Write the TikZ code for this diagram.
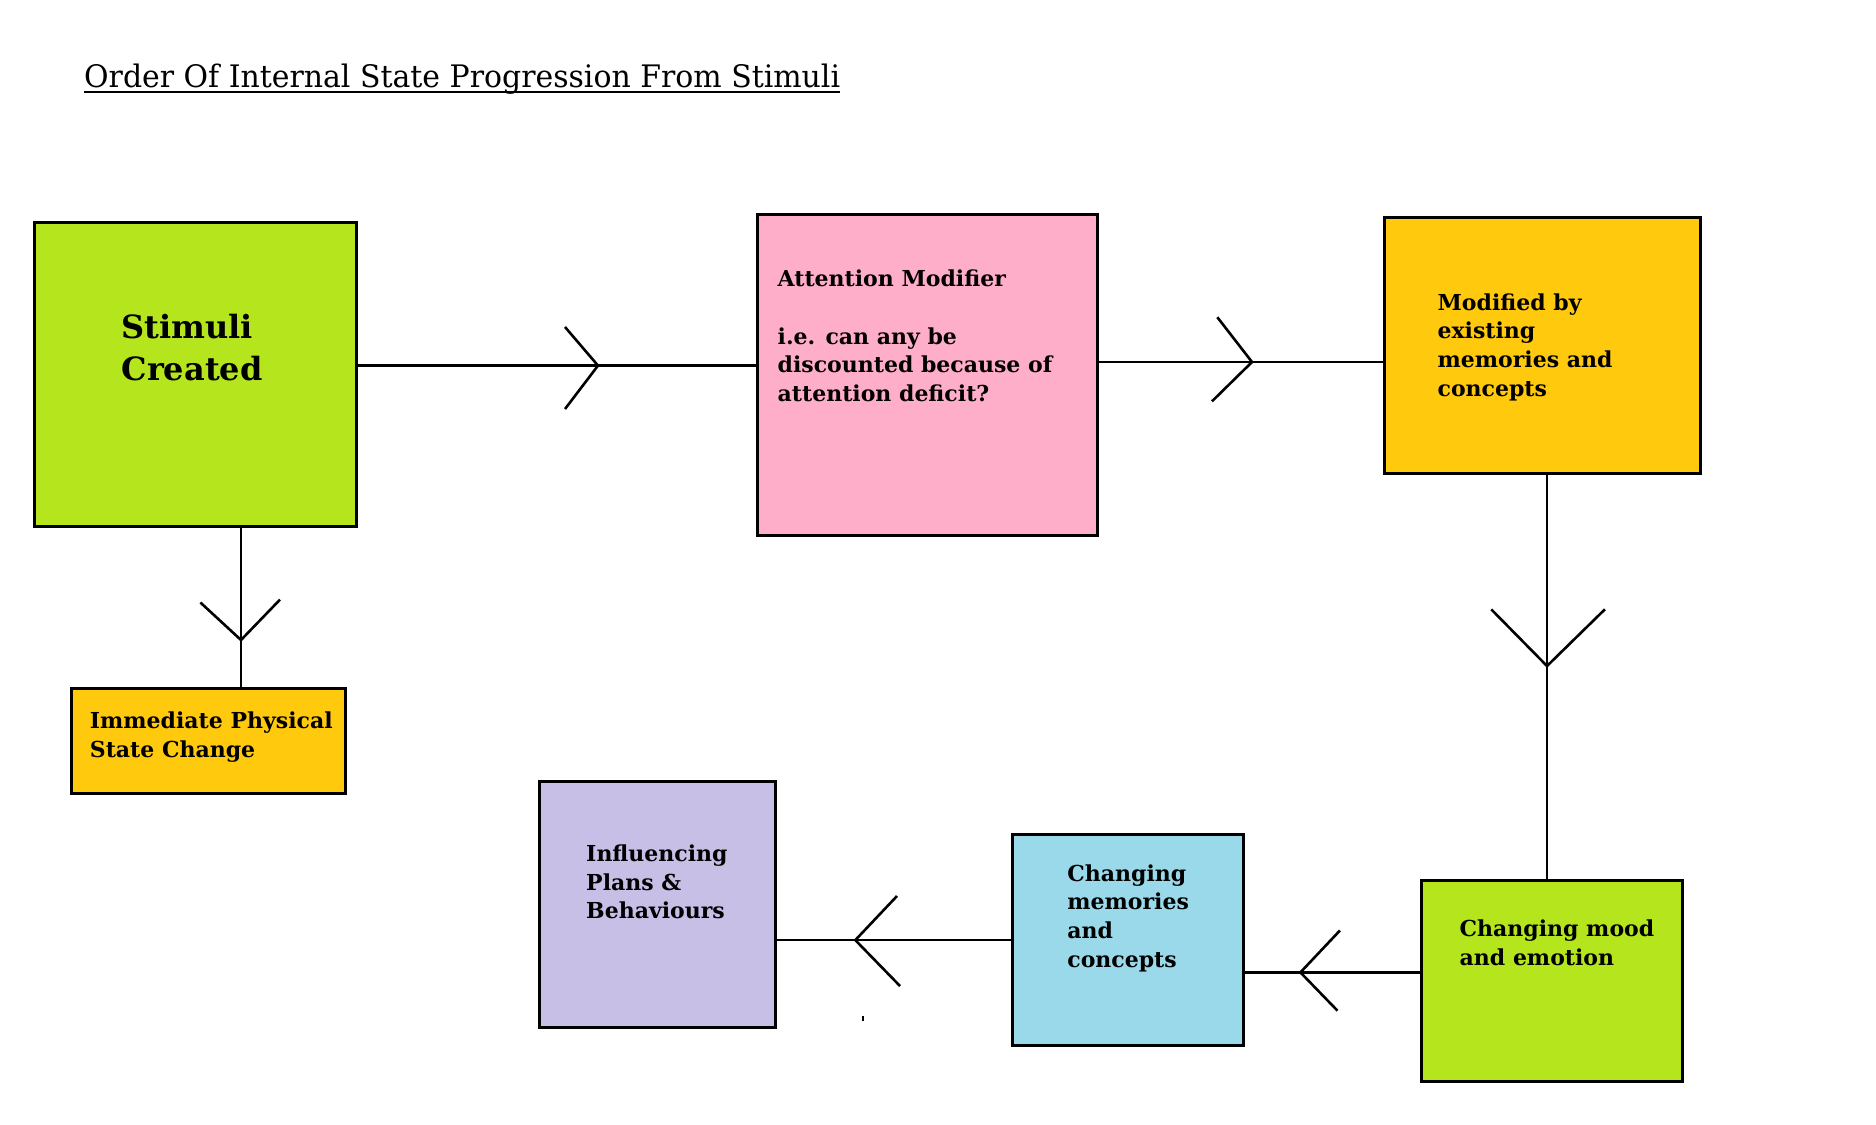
\documentclass[tikz,border=0pt]{standalone}
\usepackage{fontspec}
\setmainfont{DejaVu Serif}
\newfontfamily\titlefont{DejaVu Serif}[FakeStretch=0.965]
\definecolor{pgreen}{HTML}{B5E61D}
\definecolor{pyellow}{HTML}{FFC90E}
\definecolor{ppink}{HTML}{FFAEC9}
\definecolor{pblue}{HTML}{99D9EA}
\definecolor{plav}{HTML}{C8BFE7}
\newcommand\boxlines[1]{\begin{tabular}[t]{@{}l@{}}#1\end{tabular}}
\tikzset{
  box/.style={draw=black, line width=3pt, inner sep=0pt, rectangle},
  conn/.style={draw=black, line width=2.6pt},
  btext/.style={inner sep=0pt, anchor=base west, font=\bfseries\fontsize{22}{28.7}\selectfont},
}
\begin{document}
\begin{tikzpicture}[x=1pt,y=-1pt]
\fill[white] (0,0) rectangle (1876,1124);
\useasboundingbox (0,0) rectangle (1876,1124);

% title
\node[inner sep=0pt, anchor=base west, font=\titlefont\fontsize{31}{36}\selectfont] (title) at (84,87.8) {Order Of Internal State Progression From Stimuli};
\draw[line width=2pt] ([yshift=-4pt]title.base west) -- ([yshift=-4pt]title.base east);

% boxes
\node[box, fill=pgreen, minimum width=322pt, minimum height=304pt] (stim) at (195,374) {};
\node[box, fill=ppink, minimum width=340.5pt, minimum height=320.2pt] (att) at (927.25,374.9) {};
\node[box, fill=pyellow, minimum width=316pt, minimum height=256pt] (mod) at (1542,345.5) {};
\node[box, fill=pyellow, minimum width=274pt, minimum height=104.5pt] (imm) at (208.5,740.75) {};
\node[box, fill=plav, minimum width=236pt, minimum height=246pt] (infl) at (657,904.5) {};
\node[box, fill=pblue, minimum width=231pt, minimum height=211pt] (mem) at (1127.5,939.5) {};
\node[box, fill=pgreen, minimum width=260.5pt, minimum height=200.5pt] (mood) at (1551.75,980.75) {};

% texts
\node[btext, font=\bfseries\fontsize{32}{41.3}\selectfont] (stimT) at (121.4,338.7) {\boxlines{Stimuli\\Created}};
\node[btext] (attT) at (777.5,286.7) {\boxlines{Attention Modifier\\ \\i.e. can any be\\discounted because of\\attention deficit?}};
\node[btext] (modT) at (1437.4,310) {\boxlines{Modified by\\existing\\memories and\\concepts}};
\node[btext] (immT) at (89.7,728.7) {\boxlines{Immediate Physical\\State Change}};
\node[btext] (inflT) at (586,861.3) {\boxlines{Influencing\\Plans \&\\Behaviours}};
\node[btext] (memT) at (1067.2,881) {\boxlines{Changing\\memories\\and\\concepts}};
\node[btext] (moodT) at (1459.5,936.5) {\boxlines{Changing mood\\and emotion}};

% arrow tips
\coordinate (a1) at (598,365.6);
\coordinate (a2) at (1252,362);
\coordinate (a3) at (1547,666);
\coordinate (a4) at (1300.4,972.4);
\coordinate (a5) at (855.3,940.1);
\coordinate (a6) at (241,640);

% connectors
\draw[conn] (stim.east |- a1) -- (att.west |- a1);
\draw[conn] (a1) ++(-33,-38.6) -- (a1) -- ++(-33,43.4);

\draw[conn] (att.east |- a2) -- (mod.west |- a2);
\draw[conn] (a2) ++(-34.7,-44.8) -- (a2) -- ++(-40.1,39.4);

\draw[conn] (a3 |- mod.south) -- (a3 |- mood.north);
\draw[conn] (a3) ++(-55.8,-56.7) -- (a3) -- ++(57.9,-56.7);

\draw[conn] (mood.west |- a4) -- (mem.east |- a4);
\draw[conn] (a4) ++(39.5,-41.9) -- (a4) -- ++(37.1,38.3);

\draw[conn] (mem.west |- a5) -- (infl.east |- a5);
\draw[conn] (a5) ++(41.7,-44.1) -- (a5) -- ++(44.7,45.9);

\draw[conn] (a6 |- stim.south) -- (a6 |- imm.north);
\draw[conn] (a6) ++(-40.6,-37.5) -- (a6) -- ++(39,-40.4);

% stray dot
\fill[black] (861.8,1015.5) rectangle (864.2,1020.5);
\end{tikzpicture}
\end{document}
